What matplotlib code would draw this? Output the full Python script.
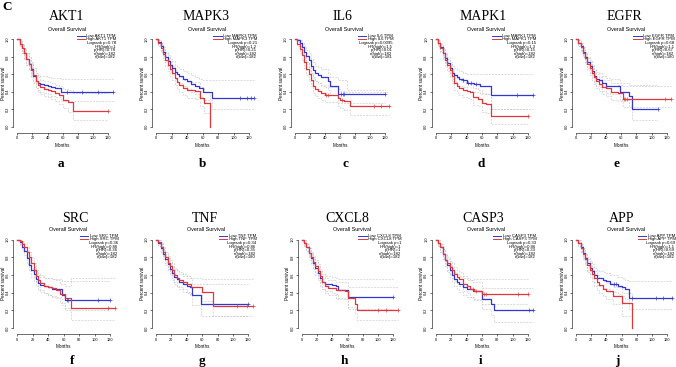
import matplotlib
matplotlib.use('Agg')
import matplotlib.pyplot as plt

SANS = 'Liberation Sans'
SERIF = 'Liberation Serif'

# ---------------- data ----------------
genes = ['AKT1', 'MAPK3', 'IL6', 'MAPK1', 'EGFR', 'SRC', 'TNF', 'CXCL8', 'CASP3', 'APP']
letters = ['a', 'b', 'c', 'd', 'e', 'f', 'g', 'h', 'i', 'j']
logrank_p = ['0.78', '0.21', '0.0095', '0.15', '0.68', '0.36', '0.34', '1', '0.33', '0.69']
hr_high = ['1', '1.2', '1.5', '1.3', '1.1', '0.86', '0.86', '1', '0.86', '1.1']
p_hr = ['0.78', '0.21', '0.01', '0.15', '0.67', '0.36', '0.35', '1', '0.33', '0.69']
n_high = [182, 182, 182, 182, 182, 182, 182, 182, 182, 182]
n_low = [182, 182, 181, 182, 180, 182, 180, 182, 182, 182]

# AKT1
AKT1_low_t = [0, 3, 6, 9, 12, 15, 18, 21, 24, 27, 30, 35, 40, 45, 50, 58]
AKT1_low_s = [1.00, 0.95, 0.90, 0.84, 0.78, 0.72, 0.66, 0.58, 0.52, 0.50, 0.49, 0.48, 0.46, 0.45, 0.44, 0.40]
AKT1_low_lo = [1.00, 0.92, 0.85, 0.78, 0.71, 0.65, 0.58, 0.50, 0.44, 0.42, 0.40, 0.39, 0.37, 0.35, 0.34, 0.29]
AKT1_low_hi = [1.00, 0.98, 0.95, 0.90, 0.85, 0.80, 0.74, 0.67, 0.61, 0.59, 0.58, 0.58, 0.57, 0.56, 0.56, 0.55]
AKT1_low_end = 126
AKT1_low_cens = [65, 85, 107, 126]
AKT1_high_t = [0, 3, 6, 9, 12, 15, 18, 21, 24, 27, 30, 35, 40, 45, 50, 55, 60, 67, 73]
AKT1_high_s = [1.00, 0.95, 0.90, 0.84, 0.78, 0.72, 0.65, 0.59, 0.52, 0.48, 0.45, 0.43, 0.42, 0.41, 0.38, 0.36, 0.31, 0.28, 0.18]
AKT1_high_lo = [1.00, 0.92, 0.85, 0.78, 0.71, 0.65, 0.57, 0.51, 0.44, 0.40, 0.37, 0.35, 0.34, 0.32, 0.29, 0.26, 0.21, 0.17, 0.07]
AKT1_high_hi = [1.00, 0.98, 0.95, 0.90, 0.85, 0.80, 0.73, 0.67, 0.61, 0.57, 0.54, 0.52, 0.51, 0.50, 0.48, 0.46, 0.43, 0.42, 0.38]
AKT1_high_end = 120
AKT1_high_cens = [120]

# MAPK3
MAPK3_low_t = [0, 3, 6, 9, 12, 15, 18, 21, 24, 27, 30, 35, 40, 45, 50, 55, 60, 72]
MAPK3_low_s = [1.00, 0.97, 0.92, 0.86, 0.80, 0.75, 0.71, 0.67, 0.63, 0.60, 0.58, 0.55, 0.52, 0.49, 0.46, 0.44, 0.40, 0.33]
MAPK3_low_lo = [1.00, 0.94, 0.88, 0.81, 0.74, 0.69, 0.64, 0.60, 0.55, 0.52, 0.50, 0.47, 0.43, 0.40, 0.37, 0.34, 0.30, 0.20]
MAPK3_low_hi = [1.00, 0.99, 0.96, 0.91, 0.86, 0.82, 0.78, 0.75, 0.71, 0.68, 0.66, 0.64, 0.61, 0.59, 0.57, 0.55, 0.54, 0.54]
MAPK3_low_end = 126
MAPK3_low_cens = [108, 118, 123, 126]
MAPK3_high_t = [0, 3, 6, 9, 12, 15, 18, 21, 24, 27, 30, 35, 40, 50, 57, 62, 70]
MAPK3_high_s = [1.00, 0.96, 0.90, 0.83, 0.77, 0.71, 0.66, 0.61, 0.56, 0.51, 0.48, 0.44, 0.42, 0.41, 0.33, 0.27, 0.00]
MAPK3_high_lo = [1.00, 0.93, 0.86, 0.77, 0.70, 0.64, 0.58, 0.53, 0.48, 0.43, 0.40, 0.36, 0.33, 0.32, 0.23, 0.16, 0.00]
MAPK3_high_hi = [1.00, 0.99, 0.95, 0.89, 0.84, 0.79, 0.74, 0.70, 0.65, 0.60, 0.57, 0.53, 0.51, 0.51, 0.45, 0.40, 0.00]
MAPK3_high_end = 70
MAPK3_high_cens = []

# IL6
IL6_low_t = [0, 3, 6, 9, 12, 15, 18, 21, 24, 27, 30, 35, 44, 47, 58, 70]
IL6_low_s = [1.00, 0.99, 0.96, 0.91, 0.86, 0.81, 0.76, 0.70, 0.65, 0.61, 0.59, 0.57, 0.52, 0.46, 0.37, 0.37]
IL6_low_lo = [1.00, 0.97, 0.92, 0.86, 0.80, 0.74, 0.68, 0.62, 0.57, 0.52, 0.50, 0.48, 0.42, 0.36, 0.27, 0.27]
IL6_low_hi = [1.00, 1.00, 0.99, 0.96, 0.92, 0.88, 0.84, 0.78, 0.74, 0.70, 0.68, 0.66, 0.62, 0.57, 0.54, 0.42]
IL6_low_end = 120
IL6_low_cens = [62, 64, 66, 120]
IL6_high_t = [0, 3, 6, 9, 12, 15, 18, 21, 24, 27, 30, 35, 40, 58, 60, 66, 74]
IL6_high_s = [1.00, 0.95, 0.89, 0.82, 0.74, 0.66, 0.60, 0.54, 0.47, 0.43, 0.41, 0.38, 0.36, 0.33, 0.30, 0.29, 0.23]
IL6_high_lo = [1.00, 0.92, 0.84, 0.76, 0.67, 0.59, 0.52, 0.46, 0.39, 0.35, 0.33, 0.30, 0.28, 0.24, 0.21, 0.19, 0.13]
IL6_high_hi = [1.00, 0.98, 0.94, 0.88, 0.81, 0.74, 0.68, 0.62, 0.56, 0.52, 0.50, 0.47, 0.45, 0.43, 0.41, 0.40, 0.40]
IL6_high_end = 126
IL6_high_cens = [42, 44, 63, 105, 115, 126]

# MAPK1
MAPK1_low_t = [0, 3, 6, 9, 12, 15, 18, 21, 24, 27, 30, 35, 40, 50, 57, 72]
MAPK1_low_s = [1.00, 0.96, 0.91, 0.85, 0.79, 0.73, 0.67, 0.62, 0.59, 0.57, 0.55, 0.53, 0.50, 0.49, 0.46, 0.36]
MAPK1_low_lo = [1.00, 0.93, 0.87, 0.80, 0.73, 0.67, 0.60, 0.55, 0.51, 0.49, 0.47, 0.45, 0.41, 0.40, 0.37, 0.20]
MAPK1_low_hi = [1.00, 0.99, 0.95, 0.90, 0.85, 0.80, 0.74, 0.69, 0.67, 0.65, 0.64, 0.62, 0.60, 0.60, 0.60, 0.60]
MAPK1_low_end = 126
MAPK1_low_cens = [36, 42, 46, 52, 105, 126]
MAPK1_high_t = [0, 3, 6, 9, 12, 15, 18, 21, 24, 27, 30, 35, 40, 45, 48, 55, 60, 65, 72]
MAPK1_high_s = [1.00, 0.96, 0.90, 0.84, 0.77, 0.71, 0.65, 0.58, 0.50, 0.47, 0.44, 0.42, 0.41, 0.40, 0.34, 0.32, 0.27, 0.26, 0.12]
MAPK1_high_lo = [1.00, 0.93, 0.86, 0.78, 0.70, 0.64, 0.57, 0.50, 0.42, 0.39, 0.36, 0.34, 0.33, 0.32, 0.25, 0.23, 0.17, 0.16, 0.03]
MAPK1_high_hi = [1.00, 0.99, 0.94, 0.89, 0.83, 0.78, 0.72, 0.66, 0.59, 0.56, 0.53, 0.51, 0.50, 0.49, 0.44, 0.42, 0.38, 0.37, 0.20]
MAPK1_high_end = 120
MAPK1_high_cens = [120]

# EGFR
EGFR_low_t = [0, 3, 6, 9, 12, 15, 18, 21, 24, 27, 30, 35, 40, 45, 58, 70, 74]
EGFR_low_s = [1.00, 0.96, 0.92, 0.86, 0.80, 0.74, 0.69, 0.64, 0.58, 0.55, 0.53, 0.50, 0.47, 0.46, 0.40, 0.35, 0.20]
EGFR_low_lo = [1.00, 0.93, 0.88, 0.81, 0.74, 0.67, 0.62, 0.56, 0.50, 0.47, 0.45, 0.41, 0.38, 0.37, 0.30, 0.24, 0.08]
EGFR_low_hi = [1.00, 0.99, 0.96, 0.91, 0.86, 0.80, 0.76, 0.71, 0.66, 0.63, 0.61, 0.58, 0.56, 0.55, 0.50, 0.48, 0.48]
EGFR_low_end = 108
EGFR_low_cens = [108]
EGFR_high_t = [0, 3, 6, 9, 12, 15, 18, 21, 24, 27, 30, 35, 40, 46, 55, 62]
EGFR_high_s = [1.00, 0.96, 0.91, 0.85, 0.79, 0.72, 0.67, 0.62, 0.57, 0.52, 0.49, 0.45, 0.44, 0.40, 0.38, 0.32]
EGFR_high_lo = [1.00, 0.93, 0.87, 0.80, 0.72, 0.65, 0.59, 0.54, 0.49, 0.44, 0.41, 0.37, 0.35, 0.31, 0.29, 0.22]
EGFR_high_hi = [1.00, 0.99, 0.95, 0.90, 0.85, 0.79, 0.74, 0.69, 0.65, 0.60, 0.57, 0.54, 0.53, 0.50, 0.48, 0.46]
EGFR_high_end = 126
EGFR_high_cens = [63, 65, 67, 118, 126]

# SRC
SRC_low_t = [0, 3, 6, 9, 12, 15, 18, 21, 24, 27, 30, 35, 40, 45, 58, 62]
SRC_low_s = [1.00, 0.97, 0.92, 0.87, 0.79, 0.71, 0.66, 0.61, 0.55, 0.51, 0.49, 0.48, 0.46, 0.44, 0.37, 0.32]
SRC_low_lo = [1.00, 0.94, 0.88, 0.82, 0.72, 0.64, 0.58, 0.53, 0.47, 0.43, 0.41, 0.39, 0.37, 0.35, 0.26, 0.20]
SRC_low_hi = [1.00, 0.99, 0.96, 0.92, 0.86, 0.78, 0.73, 0.69, 0.64, 0.60, 0.58, 0.57, 0.56, 0.55, 0.53, 0.53]
SRC_low_end = 120
SRC_low_cens = [64, 66, 105, 120]
SRC_high_t = [0, 3, 6, 9, 12, 15, 18, 21, 24, 27, 30, 35, 40, 45, 50, 55, 62, 70]
SRC_high_s = [1.00, 0.98, 0.95, 0.92, 0.86, 0.80, 0.73, 0.66, 0.59, 0.54, 0.51, 0.48, 0.46, 0.45, 0.43, 0.38, 0.34, 0.23]
SRC_high_lo = [1.00, 0.95, 0.91, 0.87, 0.80, 0.73, 0.65, 0.58, 0.51, 0.46, 0.43, 0.40, 0.37, 0.36, 0.34, 0.28, 0.23, 0.09]
SRC_high_hi = [1.00, 1.00, 0.98, 0.96, 0.91, 0.86, 0.80, 0.74, 0.67, 0.62, 0.60, 0.57, 0.56, 0.55, 0.54, 0.50, 0.48, 0.56]
SRC_high_end = 126
SRC_high_cens = [118, 126]

# TNF
TNF_low_t = [0, 3, 6, 9, 12, 15, 18, 21, 24, 27, 30, 35, 40, 44, 47, 58]
TNF_low_s = [1.00, 0.96, 0.90, 0.84, 0.78, 0.72, 0.67, 0.62, 0.58, 0.55, 0.52, 0.50, 0.48, 0.46, 0.37, 0.27]
TNF_low_lo = [1.00, 0.93, 0.86, 0.78, 0.71, 0.65, 0.60, 0.54, 0.50, 0.46, 0.44, 0.41, 0.39, 0.37, 0.26, 0.14]
TNF_low_hi = [1.00, 0.99, 0.95, 0.89, 0.84, 0.79, 0.75, 0.70, 0.67, 0.64, 0.61, 0.59, 0.57, 0.56, 0.50, 0.50]
TNF_low_end = 120
TNF_low_cens = [120]
TNF_high_t = [0, 3, 6, 9, 12, 15, 18, 21, 24, 27, 30, 35, 40, 45, 60, 74]
TNF_high_s = [1.00, 0.97, 0.92, 0.86, 0.80, 0.74, 0.70, 0.65, 0.60, 0.56, 0.54, 0.52, 0.50, 0.46, 0.41, 0.25]
TNF_high_lo = [1.00, 0.94, 0.88, 0.81, 0.74, 0.67, 0.62, 0.57, 0.52, 0.48, 0.46, 0.44, 0.41, 0.37, 0.31, 0.13]
TNF_high_hi = [1.00, 1.00, 0.96, 0.91, 0.86, 0.81, 0.77, 0.73, 0.68, 0.65, 0.63, 0.61, 0.59, 0.56, 0.55, 0.55]
TNF_high_end = 126
TNF_high_cens = [105, 118, 126]

# CXCL8
CXCL8_low_t = [0, 3, 6, 9, 12, 15, 18, 21, 24, 27, 30, 35, 40, 45, 47, 60]
CXCL8_low_s = [1.00, 0.96, 0.91, 0.85, 0.79, 0.74, 0.68, 0.62, 0.56, 0.52, 0.50, 0.50, 0.49, 0.47, 0.43, 0.35]
CXCL8_low_lo = [1.00, 0.93, 0.87, 0.80, 0.72, 0.67, 0.60, 0.54, 0.48, 0.44, 0.42, 0.42, 0.40, 0.38, 0.33, 0.22]
CXCL8_low_hi = [1.00, 0.99, 0.95, 0.90, 0.85, 0.80, 0.75, 0.70, 0.64, 0.61, 0.59, 0.59, 0.58, 0.56, 0.55, 0.55]
CXCL8_low_end = 120
CXCL8_low_cens = [120]
CXCL8_high_t = [0, 3, 6, 9, 12, 15, 18, 21, 24, 27, 30, 35, 45, 57, 60, 70, 73]
CXCL8_high_s = [1.00, 0.96, 0.91, 0.85, 0.80, 0.75, 0.70, 0.64, 0.59, 0.52, 0.48, 0.45, 0.43, 0.42, 0.34, 0.27, 0.20]
CXCL8_high_lo = [1.00, 0.93, 0.87, 0.80, 0.73, 0.68, 0.62, 0.56, 0.51, 0.44, 0.40, 0.37, 0.34, 0.33, 0.24, 0.17, 0.09]
CXCL8_high_hi = [1.00, 0.99, 0.95, 0.90, 0.86, 0.81, 0.77, 0.72, 0.67, 0.61, 0.57, 0.54, 0.52, 0.52, 0.46, 0.46, 0.46]
CXCL8_high_end = 126
CXCL8_high_cens = [100, 110, 126]

# CASP3
CASP3_low_t = [0, 3, 6, 9, 12, 15, 18, 21, 24, 27, 30, 35, 40, 48, 60, 72, 75]
CASP3_low_s = [1.00, 0.96, 0.91, 0.84, 0.77, 0.71, 0.65, 0.60, 0.55, 0.52, 0.50, 0.46, 0.44, 0.42, 0.33, 0.27, 0.20]
CASP3_low_lo = [1.00, 0.93, 0.86, 0.78, 0.70, 0.63, 0.57, 0.52, 0.47, 0.44, 0.41, 0.37, 0.35, 0.33, 0.22, 0.15, 0.07]
CASP3_low_hi = [1.00, 0.99, 0.95, 0.89, 0.84, 0.78, 0.72, 0.68, 0.63, 0.61, 0.59, 0.56, 0.54, 0.52, 0.45, 0.45, 0.45]
CASP3_low_end = 126
CASP3_low_cens = [121, 126]
CASP3_high_t = [0, 3, 6, 9, 12, 15, 18, 21, 24, 27, 30, 35, 40, 45, 50, 60]
CASP3_high_s = [1.00, 0.96, 0.91, 0.84, 0.77, 0.73, 0.69, 0.65, 0.61, 0.58, 0.55, 0.50, 0.48, 0.44, 0.42, 0.38]
CASP3_high_lo = [1.00, 0.93, 0.86, 0.78, 0.70, 0.66, 0.61, 0.57, 0.53, 0.50, 0.47, 0.42, 0.39, 0.35, 0.32, 0.27]
CASP3_high_hi = [1.00, 0.99, 0.95, 0.89, 0.84, 0.80, 0.76, 0.73, 0.69, 0.66, 0.63, 0.59, 0.57, 0.54, 0.55, 0.55]
CASP3_high_end = 120
CASP3_high_cens = [48, 52, 62, 65, 107, 120]

# APP
APP_low_t = [0, 3, 6, 9, 12, 15, 18, 21, 24, 27, 30, 35, 40, 45, 55, 60, 65, 70]
APP_low_s = [1.00, 0.96, 0.91, 0.85, 0.79, 0.73, 0.68, 0.64, 0.60, 0.57, 0.56, 0.54, 0.53, 0.50, 0.48, 0.46, 0.44, 0.34]
APP_low_lo = [1.00, 0.93, 0.87, 0.79, 0.72, 0.66, 0.60, 0.56, 0.52, 0.49, 0.47, 0.45, 0.44, 0.41, 0.38, 0.36, 0.33, 0.22]
APP_low_hi = [1.00, 0.99, 0.95, 0.90, 0.85, 0.80, 0.76, 0.72, 0.68, 0.65, 0.64, 0.63, 0.62, 0.60, 0.58, 0.56, 0.54, 0.53]
APP_low_end = 126
APP_low_cens = [50, 52, 73, 105, 115, 126]
APP_high_t = [0, 3, 6, 9, 12, 15, 18, 21, 24, 27, 30, 35, 40, 48, 60, 73]
APP_high_s = [1.00, 0.96, 0.90, 0.84, 0.78, 0.71, 0.66, 0.61, 0.56, 0.52, 0.49, 0.44, 0.42, 0.36, 0.28, 0.00]
APP_high_lo = [1.00, 0.93, 0.86, 0.78, 0.71, 0.63, 0.58, 0.53, 0.48, 0.43, 0.40, 0.36, 0.33, 0.27, 0.13, 0.00]
APP_high_hi = [1.00, 0.99, 0.94, 0.89, 0.84, 0.78, 0.73, 0.69, 0.64, 0.60, 0.57, 0.53, 0.51, 0.46, 0.40, 0.00]
APP_high_end = 73
APP_high_cens = []

x_ticks = [0, 20, 40, 60, 80, 100, 120]
y_ticks = [0.0, 0.2, 0.4, 0.6, 0.8, 1.0]

# ---------------- layout (pixels) ----------------
W, H = 676, 367
# (x of month 0, x of month 120, y of 1.0, y of 0.0)
anchors = [
    (17.3, 108.3, 39.5, 126.5), (156, 249, 39.5, 126.5), (295, 385, 39.5, 126.5),
    (435.7, 528.3, 39.5, 126.5), (576, 666.7, 39.5, 126.5),
    (17.3, 110, 239.5, 328), (156, 248.3, 239.5, 328), (301.7, 393.3, 239.5, 328),
    (435.7, 528.3, 239.5, 328), (576, 667.3, 239.5, 328),
]
title_x = [67, 206, 342, 483, 624, 75, 205, 347, 483, 622]
letter_x = [61, 202, 345, 481, 617, 72, 202, 344, 481, 617]

BLUE = '#3535cf'
RED = '#e0373b'
CI = '#c4c4c4'

fig = plt.figure(figsize=(W / 100, H / 100), dpi=100)
fig.patch.set_facecolor('white')


def fx(px):
    return px / W


def fy(py):
    return 1 - py / H


fig.text(fx(2), fy(10), 'C', family=SERIF, fontweight='bold', fontsize=9.5, ha='left', va='baseline')

g = globals()
renderer = fig.canvas.get_renderer()

for k, gene in enumerate(genes):
    x0, x120, y1, y0 = anchors[k]
    ppm = (x120 - x0) / 120.0
    ppu = y0 - y1
    xl, xr = -5.04, 131.04
    yb, yt = -0.07, 1.04
    left = x0 + xl * ppm
    right = x0 + xr * ppm
    top = y0 - yt * ppu
    bottom = y0 - yb * ppu
    ax = fig.add_axes([fx(left), fy(bottom), fx(right - left), (bottom - top) / H])
    ax.set_xlim(xl, xr)
    ax.set_ylim(yb, yt)
    ax.patch.set_alpha(0)
    for sp in ['top', 'right']:
        ax.spines[sp].set_visible(False)
    for sp in ['left', 'bottom']:
        ax.spines[sp].set_linewidth(0.4)
    ax.spines['left'].set_bounds(0, 1)
    ax.spines['bottom'].set_bounds(0, 120)
    ax.set_xticks(x_ticks)
    ax.set_yticks(y_ticks)
    ax.set_xticklabels([str(v) for v in x_ticks], family=SANS, fontsize=2.8)
    ax.set_yticklabels(['%.1f' % v for v in y_ticks], family=SANS, fontsize=2.8,
                       rotation=90, va='center')
    ax.tick_params(length=1.5, width=0.4, pad=1.0)

    for grp in ('low', 'high'):
        t = g[f'{gene}_{grp}_t']
        lo = g[f'{gene}_{grp}_lo']
        hi = g[f'{gene}_{grp}_hi']
        end = g[f'{gene}_{grp}_end']
        tt = list(t) + [end]
        for band in (lo, hi):
            ax.step(tt, list(band) + [band[-1]], where='post', color=CI, lw=0.45,
                    ls=(0, (3, 2)), zorder=1)
    for grp, col in (('low', BLUE), ('high', RED)):
        t = g[f'{gene}_{grp}_t']
        s = g[f'{gene}_{grp}_s']
        end = g[f'{gene}_{grp}_end']
        cens = g[f'{gene}_{grp}_cens']
        tt = list(t) + [end]
        ss = list(s) + [s[-1]]
        ax.step(tt, ss, where='post', color=col, lw=0.9, zorder=3)
        if cens:
            cy = []
            for c in cens:
                idx = max(i for i, tv in enumerate(t) if tv <= c)
                cy.append(s[idx])
            ax.plot(cens, cy, ls='none', marker='+', ms=2.2, mew=0.45, color=col, zorder=4)

    # legend / stats text
    fs = 3.1
    ytop = 1.045
    hx = 131
    th = ax.text(hx, ytop - 0.036, f'High {gene} TPM', fontsize=fs, family=SANS, ha='right', va='center')
    bb = th.get_window_extent(renderer).transformed(ax.transData.inverted())
    lx = bb.x0
    ax.text(lx, ytop, f'Low {gene} TPM', fontsize=fs, family=SANS, ha='left', va='center')
    for i, col in enumerate((BLUE, RED)):
        yy = ytop - i * 0.036
        ax.plot([lx - 13, lx - 2], [yy, yy], color=col, lw=0.7)
    stats = [f'Logrank p={logrank_p[k]}', f'HR(high)={hr_high[k]}', f'p(HR)={p_hr[k]}',
             f'n(high)={n_high[k]}', f'n(low)={n_low[k]}']
    for i, stxt in enumerate(stats):
        ax.text(hx - 1, ytop - 0.088 - i * 0.04, stxt, fontsize=fs, family=SANS, ha='right', va='center')

    # axis labels
    cx = (left + right) / 2
    fig.text(fx(left - 10), fy((y1 + y0) / 2), 'Percent survival', rotation=90,
             family=SANS, fontsize=3.3, ha='center', va='center')
    fig.text(fx(x0 + 60 * ppm), fy(bottom + 12.5), 'Months', family=SANS, fontsize=3.3,
             ha='center', va='center')
    fig.text(fx(cx + 2), fy(top - 6.5), 'Overall Survival', family=SANS, fontsize=3.9,
             ha='center', va='center')
    row2 = k >= 5
    fig.text(fx(title_x[k]), fy(222 if row2 else 19.5), gene, family=SERIF, fontsize=10,
             ha='center', va='baseline')
    fig.text(fx(letter_x[k]), fy(364 if row2 else 167), letters[k], family=SERIF,
             fontweight='bold', fontsize=9.5, ha='center', va='baseline')

fig.savefig('out.png', dpi=100, facecolor='white')
